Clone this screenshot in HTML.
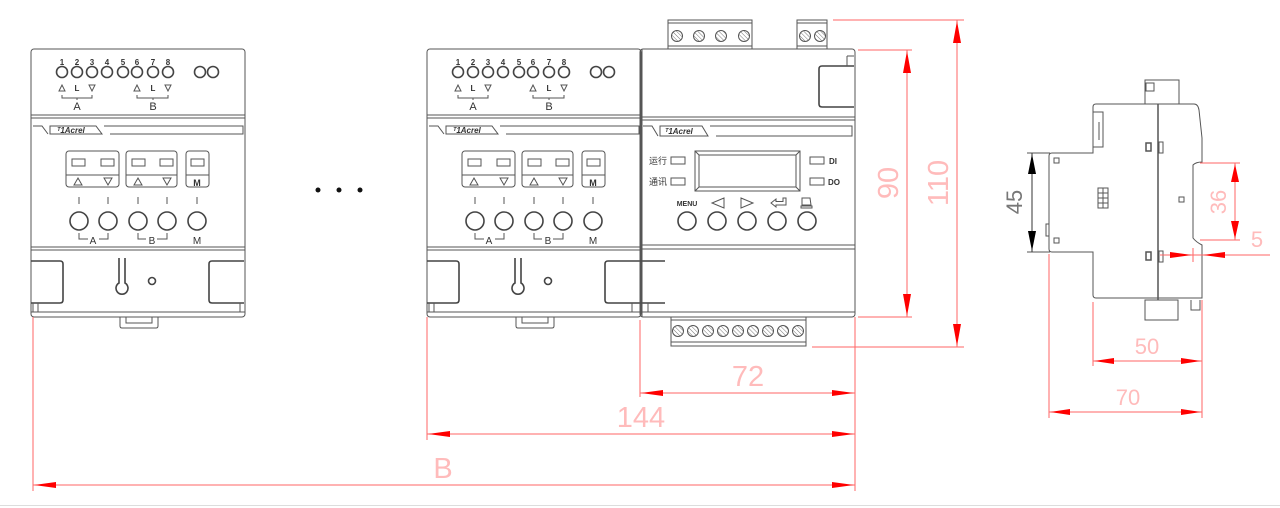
<!DOCTYPE html>
<html><head><meta charset="utf-8"><style>
html,body{margin:0;padding:0;background:#fff;}
svg{display:block;}
.g{fill:none;stroke:#555;stroke-width:1;}
.g2{fill:none;stroke:#444;stroke-width:1.6;}
.r{fill:none;stroke:#f66;stroke-width:1;}
.ra{fill:#f00;stroke:none;}
.rt{fill:#fbb;font-family:"Liberation Sans",sans-serif;}
.t{fill:#333;font-family:"Liberation Sans",sans-serif;}
</style></head><body>
<svg width="1280" height="508" viewBox="0 0 1280 508" xmlns="http://www.w3.org/2000/svg">
<defs>
<pattern id="h" width="3" height="3" patternUnits="userSpaceOnUse" patternTransform="rotate(-45)"><line x1="0" y1="0" x2="0" y2="3" stroke="#777" stroke-width="1"/></pattern>
</defs>

<g id="m1">
<rect class="g" x="31" y="49" width="214" height="268" rx="3"/>
<line class="g" x1="31" y1="115" x2="245" y2="115"/><line class="g" x1="31" y1="118" x2="245" y2="118"/>
<path class="g" d="M33 126 L42 126 L48 134 M50 126 L96 126 L102 134 L50 134 Z M104 126 L243 126 L243 134 L110 134"/>
<text class="t" x="57" y="133" font-size="8" font-style="italic" font-weight="bold">ᵀ1Acrel</text>
<line class="g" x1="31" y1="247" x2="245" y2="247"/><line class="g" x1="31" y1="250" x2="245" y2="250"/>
<line class="g" x1="31" y1="312" x2="245" y2="312"/>
<path class="g" d="M120 317 V326 Q120 328 122 328 H156 Q158 328 158 326 V317 M126 317 V323 H152 V317"/>
<g font-size="8" class="t" font-weight="bold" text-anchor="middle">
<text x="62" y="65">1</text><text x="77" y="65">2</text><text x="92" y="65">3</text><text x="107" y="65">4</text><text x="123" y="65">5</text><text x="137" y="65">6</text><text x="153" y="65">7</text><text x="168" y="65">8</text>
</g>
<g class="g2"><circle cx="62" cy="72" r="5.5"/><circle cx="77" cy="72" r="5.5"/><circle cx="92" cy="72" r="5.5"/><circle cx="107" cy="72" r="5.5"/><circle cx="123" cy="72" r="5.5"/><circle cx="137" cy="72" r="5.5"/><circle cx="153" cy="72" r="5.5"/><circle cx="168" cy="72" r="5.5"/><circle cx="200" cy="72" r="5.5"/><circle cx="213" cy="72" r="5.5"/></g>
<g class="g"><path d="M59 91 L62 85 L65 91 Z M89 85 L95 85 L92 91 Z M134 91 L137 85 L140 91 Z M165 85 L171 85 L168 91 Z"/>
<path d="M62 95 V98 H92 V95 M77 98 V100 M137 95 V98 H168 V95 M153 98 V100"/></g>
<text class="t" x="77" y="91" font-size="8" font-weight="bold" text-anchor="middle">L</text>
<text class="t" x="153" y="91" font-size="8" font-weight="bold" text-anchor="middle">L</text>
<text class="t" x="77" y="110" font-size="11" text-anchor="middle">A</text>
<text class="t" x="153" y="110" font-size="11" text-anchor="middle">B</text>
<g class="g"><rect x="66" y="151" width="53" height="36" rx="3"/><line x1="66" y1="175" x2="119" y2="175"/>
<rect x="126" y="151" width="51" height="36" rx="3"/><line x1="126" y1="175" x2="177" y2="175"/>
<rect x="186" y="151" width="23" height="36" rx="3"/><line x1="186" y1="175" x2="209" y2="175"/>
<rect x="72" y="159" width="13" height="7"/><rect x="101" y="159" width="13" height="7"/><rect x="132" y="159" width="13" height="7"/><rect x="160" y="159" width="13" height="7"/><rect x="191" y="159" width="13" height="7"/>
<path d="M74 185 L78 178 L82 185 Z M104 178 L112 178 L108 185 Z M134 185 L138 178 L142 185 Z M163 178 L171 178 L167 185 Z"/>
<path d="M79 197 V204 M108 197 V204 M138 197 V204 M167 197 V204 M197 197 V204"/>
<path d="M79 233 V239 H88 M99 239 H108 V233 M138 233 V239 H146 M157 239 H167 V233"/></g>
<g class="g2"><circle cx="79" cy="221" r="9"/><circle cx="108" cy="221" r="9"/><circle cx="138" cy="221" r="9"/><circle cx="167" cy="221" r="9"/><circle cx="197" cy="221" r="9"/></g>
<text class="t" x="197" y="186" font-size="9" font-weight="bold" text-anchor="middle">M</text>
<text class="t" x="93" y="244" font-size="10" text-anchor="middle">A</text>
<text class="t" x="152" y="244" font-size="10" text-anchor="middle">B</text>
<text class="t" x="197" y="244" font-size="10" text-anchor="middle">M</text>
<g class="g2"><path d="M31 261 H60 Q63 261 63 264 V300 Q63 303 60 303 H31"/><path d="M244 261 H212 Q209 261 209 264 V300 Q209 303 212 303 H244"/>
<path d="M119 258 V283 A6 6 0 1 0 125 283 V258"/><circle cx="152" cy="281" r="3.5"/></g>
<path class="g" d="M33 303 V312 M38 303 V312 M240 303 V312"/>
</g>

<circle cx="318" cy="190" r="2.5" fill="#111"/><circle cx="339" cy="190" r="2.5" fill="#111"/><circle cx="360" cy="190" r="2.5" fill="#111"/>

<g transform="translate(396,0)">
<rect class="g" x="31" y="49" width="214" height="268" rx="3"/>
<line class="g" x1="31" y1="115" x2="245" y2="115"/><line class="g" x1="31" y1="118" x2="245" y2="118"/>
<path class="g" d="M33 126 L42 126 L48 134 M50 126 L96 126 L102 134 L50 134 Z M104 126 L243 126 L243 134 L110 134"/>
<text class="t" x="57" y="133" font-size="8" font-style="italic" font-weight="bold">ᵀ1Acrel</text>
<line class="g" x1="31" y1="247" x2="245" y2="247"/><line class="g" x1="31" y1="250" x2="245" y2="250"/>
<line class="g" x1="31" y1="312" x2="245" y2="312"/>
<path class="g" d="M120 317 V326 Q120 328 122 328 H156 Q158 328 158 326 V317 M126 317 V323 H152 V317"/>
<g font-size="8" class="t" font-weight="bold" text-anchor="middle">
<text x="62" y="65">1</text><text x="77" y="65">2</text><text x="92" y="65">3</text><text x="107" y="65">4</text><text x="123" y="65">5</text><text x="137" y="65">6</text><text x="153" y="65">7</text><text x="168" y="65">8</text>
</g>
<g class="g2"><circle cx="62" cy="72" r="5.5"/><circle cx="77" cy="72" r="5.5"/><circle cx="92" cy="72" r="5.5"/><circle cx="107" cy="72" r="5.5"/><circle cx="123" cy="72" r="5.5"/><circle cx="137" cy="72" r="5.5"/><circle cx="153" cy="72" r="5.5"/><circle cx="168" cy="72" r="5.5"/><circle cx="200" cy="72" r="5.5"/><circle cx="213" cy="72" r="5.5"/></g>
<g class="g"><path d="M59 91 L62 85 L65 91 Z M89 85 L95 85 L92 91 Z M134 91 L137 85 L140 91 Z M165 85 L171 85 L168 91 Z"/>
<path d="M62 95 V98 H92 V95 M77 98 V100 M137 95 V98 H168 V95 M153 98 V100"/></g>
<text class="t" x="77" y="91" font-size="8" font-weight="bold" text-anchor="middle">L</text>
<text class="t" x="153" y="91" font-size="8" font-weight="bold" text-anchor="middle">L</text>
<text class="t" x="77" y="110" font-size="11" text-anchor="middle">A</text>
<text class="t" x="153" y="110" font-size="11" text-anchor="middle">B</text>
<g class="g"><rect x="66" y="151" width="53" height="36" rx="3"/><line x1="66" y1="175" x2="119" y2="175"/>
<rect x="126" y="151" width="51" height="36" rx="3"/><line x1="126" y1="175" x2="177" y2="175"/>
<rect x="186" y="151" width="23" height="36" rx="3"/><line x1="186" y1="175" x2="209" y2="175"/>
<rect x="72" y="159" width="13" height="7"/><rect x="101" y="159" width="13" height="7"/><rect x="132" y="159" width="13" height="7"/><rect x="160" y="159" width="13" height="7"/><rect x="191" y="159" width="13" height="7"/>
<path d="M74 185 L78 178 L82 185 Z M104 178 L112 178 L108 185 Z M134 185 L138 178 L142 185 Z M163 178 L171 178 L167 185 Z"/>
<path d="M79 197 V204 M108 197 V204 M138 197 V204 M167 197 V204 M197 197 V204"/>
<path d="M79 233 V239 H88 M99 239 H108 V233 M138 233 V239 H146 M157 239 H167 V233"/></g>
<g class="g2"><circle cx="79" cy="221" r="9"/><circle cx="108" cy="221" r="9"/><circle cx="138" cy="221" r="9"/><circle cx="167" cy="221" r="9"/><circle cx="197" cy="221" r="9"/></g>
<text class="t" x="197" y="186" font-size="9" font-weight="bold" text-anchor="middle">M</text>
<text class="t" x="93" y="244" font-size="10" text-anchor="middle">A</text>
<text class="t" x="152" y="244" font-size="10" text-anchor="middle">B</text>
<text class="t" x="197" y="244" font-size="10" text-anchor="middle">M</text>
<g class="g2"><path d="M31 261 H60 Q63 261 63 264 V300 Q63 303 60 303 H31"/><path d="M269 261 H212 Q209 261 209 264 V300 Q209 303 212 303 H269"/>
<path d="M119 258 V283 A6 6 0 1 0 125 283 V258"/><circle cx="152" cy="281" r="3.5"/></g>
<path class="g" d="M33 303 V312 M38 303 V312 M236 303 V312 M244 303 V312 M252 303 V312"/>
</g>

<g>
<rect class="g" x="640" y="49" width="215" height="268" rx="3"/>
<line class="g" x1="642" y1="49" x2="642" y2="317"/>
<line class="g" x1="640" y1="117" x2="855" y2="117"/><line class="g" x1="640" y1="120" x2="855" y2="120"/>
<path class="g" d="M643 126 L652 126 L658 136 M660 126 L702 126 L708 136 L660 136 Z M710 126 L852 126 L852 136 L716 136"/>
<text class="t" x="665" y="134" font-size="8" font-style="italic" font-weight="bold">ᵀ1Acrel</text>
<line class="g" x1="640" y1="245" x2="855" y2="245"/><line class="g" x1="640" y1="249" x2="855" y2="249"/>
<line class="g" x1="640" y1="312" x2="855" y2="312"/>
<path class="g2" d="M854 66 H822 Q819 66 819 69 V104 Q819 107 822 107 H854"/>
<path class="g" d="M847 56 H854 M847 56 V66"/>
<rect class="g" x="695" y="151" width="105" height="40"/>
<rect class="g" x="699" y="155" width="97" height="32"/>
<path class="g" d="M695 151 L699 155 M800 151 L796 155 M695 191 L699 187 M800 191 L796 187"/>
<text class="t" x="649" y="164" font-size="9" font-family="'Liberation Sans','Noto Sans CJK SC',sans-serif">运行</text>
<text class="t" x="649" y="185" font-size="9" font-family="'Liberation Sans','Noto Sans CJK SC',sans-serif">通讯</text>
<g class="g"><rect x="671" y="157" width="14" height="7"/><rect x="671" y="178" width="14" height="7"/><rect x="810" y="157" width="14" height="7"/><rect x="810" y="178" width="14" height="7"/></g>
<text class="t" x="829" y="164" font-size="8" font-weight="bold">DI</text>
<text class="t" x="828" y="185" font-size="8" font-weight="bold">DO</text>
<text class="t" x="687" y="206" font-size="7" font-weight="bold" text-anchor="middle">MENU</text>
<g class="g"><path d="M724 198 L712 203 L724 208 Z M741 198 L753 203 L741 208 Z M771 203 L776 199 V201.5 H783 V198 H786 V205 H776 V207 Z"/><path d="M802 198 H810 L811 205 H802 Z M801 206 H812 V208 H801 Z"/></g>
<g class="g2"><circle cx="687" cy="221" r="9"/><circle cx="717" cy="221" r="9"/><circle cx="747" cy="221" r="9"/><circle cx="777" cy="221" r="9"/><circle cx="807" cy="221" r="9"/></g>
<g class="g"><rect x="668" y="20" width="84" height="29"/><line x1="668" y1="23" x2="752" y2="23"/><line x1="668" y1="46" x2="752" y2="46"/>
<rect x="797" y="20" width="30" height="29"/><line x1="797" y1="23" x2="827" y2="23"/><line x1="797" y1="46" x2="827" y2="46"/></g>
<g class="g" style="fill:url(#h)"><circle cx="677" cy="36" r="5.5"/><circle cx="699" cy="36" r="5.5"/><circle cx="721" cy="36" r="5.5"/><circle cx="744" cy="36" r="5.5"/><circle cx="805" cy="36" r="5.5"/><circle cx="820" cy="36" r="5.5"/></g>
<g class="g"><rect x="671" y="317" width="135" height="29"/><line x1="671" y1="320" x2="806" y2="320"/><line x1="671" y1="342" x2="806" y2="342"/></g>
<g class="g" style="fill:url(#h)"><circle cx="678" cy="331" r="5.5"/><circle cx="693" cy="331" r="5.5"/><circle cx="708" cy="331" r="5.5"/><circle cx="723" cy="331" r="5.5"/><circle cx="738" cy="331" r="5.5"/><circle cx="753" cy="331" r="5.5"/><circle cx="768" cy="331" r="5.5"/><circle cx="783" cy="331" r="5.5"/><circle cx="798" cy="331" r="5.5"/></g>
</g>

<g class="r">
<line x1="858" y1="50" x2="912" y2="50"/><line x1="858" y1="317" x2="912" y2="317"/><line x1="907" y1="50" x2="907" y2="317"/>
<line x1="833" y1="20" x2="964" y2="20"/><line x1="812" y1="347" x2="964" y2="347"/><line x1="957" y1="20" x2="957" y2="347"/>
<line x1="640" y1="320" x2="640" y2="397"/><line x1="427" y1="317" x2="427" y2="440"/><line x1="855" y1="317" x2="855" y2="491"/><line x1="33" y1="317" x2="33" y2="491"/>
<line x1="640" y1="393" x2="855" y2="393"/><line x1="427" y1="434" x2="855" y2="434"/><line x1="33" y1="485" x2="855" y2="485"/>
</g>
<g class="ra">
<path d="M907 51 L903 73 L911 73 Z M907 316 L903 294 L911 294 Z"/>
<path d="M957 21 L953 43 L961 43 Z M957 346 L953 324 L961 324 Z"/>
<path d="M641 393 L663 390 L663 396 Z M854 393 L832 390 L832 396 Z"/>
<path d="M428 434 L450 431 L450 437 Z M854 434 L832 431 L832 437 Z"/>
<path d="M34 485 L56 482 L56 488 Z M854 485 L832 482 L832 488 Z"/>
</g>
<text class="rt" font-size="29" transform="translate(898,183) rotate(-90)" text-anchor="middle">90</text>
<text class="rt" font-size="29" transform="translate(948,183) rotate(-90)" text-anchor="middle">110</text>
<text class="rt" x="748" y="386" font-size="29" text-anchor="middle">72</text>
<text class="rt" x="641" y="427" font-size="29" text-anchor="middle">144</text>
<text class="rt" x="443" y="478" font-size="29" text-anchor="middle">B</text>

<g class="g">
<path d="M1093 107 Q1093 104 1096 104 H1194 Q1198 104 1199 110 L1202 138 V162 Q1196 162 1193 165 V238 Q1196 242 1202 245 V298 H1096 Q1093 298 1093 295 V252 H1052 Q1049 252 1049 249 V156 Q1049 153 1052 153 H1093 Z"/>
<line x1="1158" y1="104" x2="1158" y2="300" stroke-width="1.5"/>
<path d="M1093 112 H1103 V147 H1093 M1099 122 V140"/>
<rect x="1145" y="80" width="34" height="24"/><rect x="1146" y="83" width="8" height="8"/>
<path d="M1145 300 H1178 V320 H1145 Z M1191 300 V310 H1200 V300"/>
<rect x="1146" y="143" width="5" height="8" stroke-width="1.5"/><rect x="1146" y="252" width="5" height="8" stroke-width="1.5"/>
<rect x="1159" y="142" width="4" height="11"/><rect x="1159" y="251" width="4" height="11"/>
<rect x="1054" y="158" width="5" height="5"/><rect x="1054" y="238" width="5" height="5"/>
<rect x="1179" y="197" width="5" height="5"/>
<rect x="1046" y="224" width="3" height="12"/>
<path d="M1098 188 H1108 V208 H1098 Z M1098 193 H1108 M1098 198 H1108 M1098 203 H1108 M1103 188 V208"/>
</g>
<g>
<line x1="1027" y1="153" x2="1050" y2="153" stroke="#555"/><line x1="1027" y1="252" x2="1050" y2="252" stroke="#555"/>
<line x1="1032" y1="153" x2="1032" y2="252" stroke="#333"/>
<path d="M1032 154 L1028 174 L1036 174 Z M1032 251 L1028 231 L1036 231 Z" fill="#000"/>
<text font-size="22" transform="translate(1022,202) rotate(-90)" text-anchor="middle" fill="#777" font-family="Liberation Sans, sans-serif">45</text>
</g>
<g class="r">
<line x1="1200" y1="163" x2="1240" y2="163"/><line x1="1200" y1="240" x2="1240" y2="240"/><line x1="1235" y1="163" x2="1235" y2="240"/>
<line x1="1160" y1="255" x2="1270" y2="255"/><line x1="1193" y1="248" x2="1193" y2="262"/>
<line x1="1093" y1="302" x2="1093" y2="366"/><line x1="1049" y1="254" x2="1049" y2="418"/><line x1="1202" y1="300" x2="1202" y2="418"/>
<line x1="1093" y1="361" x2="1202" y2="361"/><line x1="1049" y1="412" x2="1202" y2="412"/>
</g>
<g class="ra">
<path d="M1235 164 L1231 182 L1239 182 Z M1235 239 L1231 221 L1239 221 Z"/>
<path d="M1192 255 L1170 252 L1170 258 Z M1203 255 L1225 252 L1225 258 Z"/>
<path d="M1094 361 L1114 358 L1114 364 Z M1201 361 L1181 358 L1181 364 Z"/>
<path d="M1050 412 L1070 409 L1070 415 Z M1201 412 L1181 409 L1181 415 Z"/>
</g>
<text class="rt" font-size="22" transform="translate(1226,202) rotate(-90)" text-anchor="middle">36</text>
<text class="rt" x="1257" y="247" font-size="22" text-anchor="middle">5</text>
<text class="rt" x="1147" y="354" font-size="22" text-anchor="middle">50</text>
<text class="rt" x="1128" y="405" font-size="22" text-anchor="middle">70</text>

<line x1="0" y1="505.5" x2="1280" y2="505.5" stroke="#ddd"/>
</svg>
</body></html>
